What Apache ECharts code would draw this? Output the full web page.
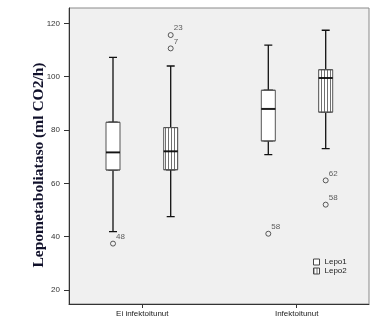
<!DOCTYPE html>
<html>
<head>
<meta charset="utf-8">
<script src="https://cdn.jsdelivr.net/npm/echarts@6/dist/echarts.min.js"></script>
<style>
html,body{margin:0;padding:0;background:#fff;}
#chart{width:376px;height:326px;}
</style>
</head>
<body>
<div id="chart"></div>
<script>
// ---- data ----
const categories = ['Ei infektoitunut', 'Infektoitunut'];
const seriesNames = ['Lepo1', 'Lepo2'];
// [min, Q1, median, Q3, max]
const lepo1Stats = [[41.9, 65.0, 71.6, 82.9, 107.2], [70.8, 75.9, 87.9, 94.9, 111.8]];
const lepo2Stats = [[47.5, 65.1, 72.0, 80.9, 104.0], [73.0, 86.7, 99.5, 102.6, 117.4]];
// [category index, value, case label]
const lepo1Outliers = [[0, 37.4, '48'], [1, 41.1, '58']];
const lepo2Outliers = [[0, 115.6, '23'], [0, 110.6, '7'], [1, 61.1, '62'], [1, 52.0, '58']];
const yTicks = [20, 40, 60, 80, 100, 120];
const yTitle = 'Lepometaboliataso (ml CO2/h)';

// ---- styling ----
const Y_MIN = 14.75, Y_MAX = 125.75;
const TOP = 8, HEIGHT = 296;

const pc = document.createElement('canvas');
pc.width = 3; pc.height = 4;
const pctx = pc.getContext('2d');
pctx.fillStyle = '#ffffff'; pctx.fillRect(0, 0, 3, 4);
pctx.fillStyle = '#707070'; pctx.fillRect(0, 0, 1, 4);
const stripe = { image: pc, repeat: 'repeat' };

const fills = ['#ffffff', stripe];
const allStats = [lepo1Stats, lepo2Stats];
const allOutliers = [lepo1Outliers, lepo2Outliers];

const chart = echarts.init(document.getElementById('chart'), null, { renderer: 'canvas' });

function hiddenX(gridIndex) {
  return { type: 'category', gridIndex: gridIndex, data: categories, show: false, boundaryGap: false };
}
function hiddenY(gridIndex) {
  return { type: 'value', gridIndex: gridIndex, min: Y_MIN, max: Y_MAX, show: false, splitLine: { show: false } };
}

const series = [];
for (let s = 0; s < 2; s++) {
  const stats = allStats[s];
  const wx = 1 + 2 * s, bx = 2 + 2 * s, yi = 1 + s;
  // whiskers (narrow caps), drawn underneath
  series.push({
    name: 'w' + s, type: 'boxplot', xAxisIndex: wx, yAxisIndex: yi,
    boxWidth: [8, 8], data: stats.map(v => v.slice()),
    itemStyle: { color: '#ffffff', borderColor: '#111111', borderWidth: 1.3 },
    emphasis: { disabled: true }, silent: true, z: 2
  });
  // boxes
  series.push({
    name: seriesNames[s], type: 'boxplot', xAxisIndex: bx, yAxisIndex: yi,
    boxWidth: [14, 14], data: stats.map(v => [v[1], v[1], v[2], v[3], v[3]]),
    itemStyle: { color: fills[s], borderColor: '#555555', borderWidth: 1 },
    emphasis: { disabled: true }, silent: true, z: 3
  });
  // medians
  series.push({
    name: 'm' + s, type: 'scatter', xAxisIndex: wx, yAxisIndex: yi,
    symbol: 'rect', symbolSize: [14, 2],
    data: stats.map((v, i) => [categories[i], v[2]]),
    itemStyle: { color: '#000000' }, silent: true, z: 4
  });
  // outliers
  series.push({
    name: 'o' + s, type: 'scatter', xAxisIndex: wx, yAxisIndex: yi,
    symbol: 'circle', symbolSize: 5,
    data: allOutliers[s].map(o => [categories[o[0]], o[1], o[2]]),
    itemStyle: { color: 'rgba(0,0,0,0)', borderColor: '#333333', borderWidth: 1 },
    label: {
      show: true, position: 'right', distance: 0, offset: [0, -7],
      formatter: p => p.value[2], fontSize: 8, color: '#333333',
      fontFamily: 'Liberation Sans, Arial, sans-serif'
    },
    silent: true, z: 4
  });
}

const option = {
  animation: false,
  backgroundColor: '#ffffff',
  grid: [
    { left: 69, top: TOP, width: 300, height: HEIGHT, show: true, backgroundColor: '#f0f0f0', borderColor: '#8a8a8a', borderWidth: 1, outerBoundsMode: 'none' },
    { left: 113, top: TOP, width: 155.3, height: HEIGHT, outerBoundsMode: 'none' },
    { left: 170.7, top: TOP, width: 155, height: HEIGHT, outerBoundsMode: 'none' },
    { left: 142.3, top: TOP, width: 154.4, height: HEIGHT, outerBoundsMode: 'none' }
  ],
  xAxis: [
    { type: 'category', gridIndex: 0, data: categories,
      axisLine: { lineStyle: { color: '#333333', width: 1 } },
      axisTick: { show: false }, axisLabel: { show: false } },
    hiddenX(1), hiddenX(1), hiddenX(2), hiddenX(2),
    { type: 'category', gridIndex: 3, data: categories, boundaryGap: false,
      axisLine: { show: false },
      axisTick: { show: true, length: 4, lineStyle: { color: '#333333' } },
      axisLabel: { margin: 6, fontSize: 8, color: '#222222', fontFamily: 'Liberation Sans, Arial, sans-serif' } }
  ],
  yAxis: [
    { type: 'value', gridIndex: 0, min: Y_MIN, max: Y_MAX,
      axisLine: { show: true, lineStyle: { color: '#333333', width: 1 } },
      axisTick: { show: true, length: 5, customValues: yTicks, lineStyle: { color: '#333333' } },
      axisLabel: { customValues: yTicks, margin: 9, fontSize: 8, color: '#333333', fontFamily: 'Liberation Sans, Arial, sans-serif' },
      splitLine: { show: false } },
    hiddenY(1), hiddenY(2), hiddenY(3)
  ],
  legend: {
    data: [
      { name: seriesNames[0], itemStyle: { color: fills[0], borderColor: '#444444', borderWidth: 1 } },
      { name: seriesNames[1], itemStyle: { color: fills[1], borderColor: '#444444', borderWidth: 1 } }
    ],
    orient: 'vertical', left: 313, top: 257.5, padding: 0,
    icon: 'rect', itemWidth: 6, itemHeight: 6, itemGap: 0,
    textStyle: { fontSize: 8, lineHeight: 9, color: '#222222', fontFamily: 'Liberation Sans, Arial, sans-serif' },
    selectedMode: false
  },
  graphic: [{
    type: 'text', x: 38.5, y: 165, rotation: Math.PI / 2,
    style: {
      text: yTitle, fill: '#10102a', font: 'bold 15.5px "Liberation Serif", "Times New Roman", serif',
      align: 'center', verticalAlign: 'middle'
    }, silent: true
  }],
  series: series
};
chart.setOption(option);
</script>
</body>
</html>
